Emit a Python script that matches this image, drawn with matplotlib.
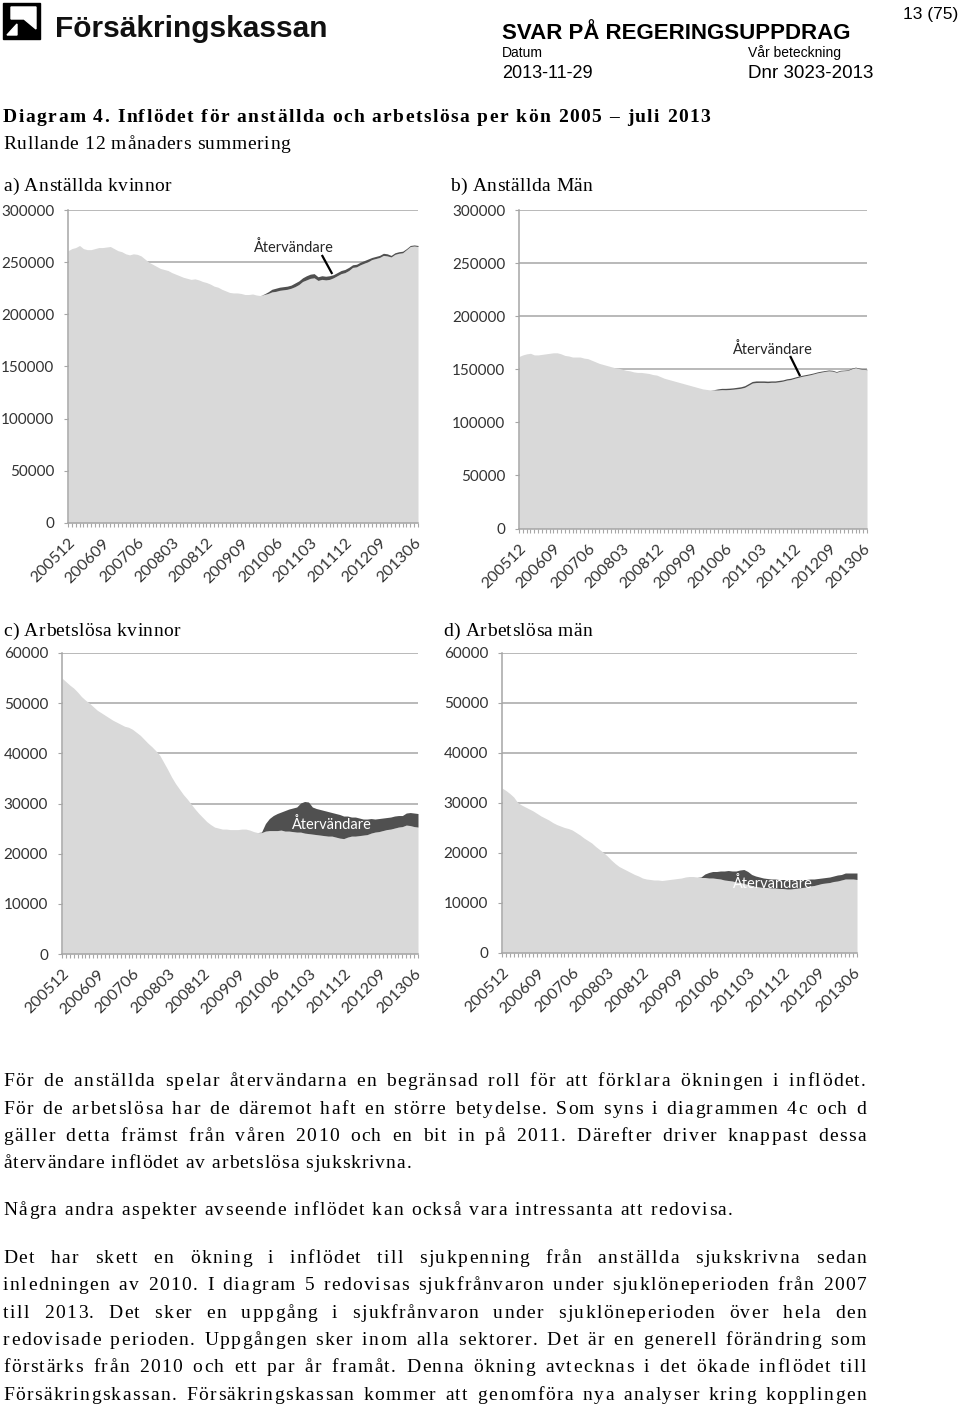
import numpy as np
import pandas as pd
import matplotlib
matplotlib.use("Agg")
import matplotlib.pyplot as plt
from matplotlib import font_manager
from matplotlib.font_manager import FontProperties
from matplotlib.ft2font import FT2Font
from matplotlib.transforms import ScaledTranslation
from matplotlib.patches import Polygon, Rectangle

# ------------------------------------------------------------------ data
months = list(pd.period_range("2005-12", "2013-07", freq="M").strftime("%Y%m"))
tick_labels = ["200512", "200609", "200706", "200803", "200812", "200909",
               "201006", "201103", "201112", "201209", "201306"]

# values in thousands (rolling 12-month sums)
a_base = [261, 263, 264, 266, 263, 262, 262, 263, 264, 264,
          264.5, 265, 263, 261, 260, 258, 257, 258, 257.5, 256,
          253, 250, 248, 246, 244, 243, 242, 240, 238.5, 237,
          235.5, 234.5, 233.5, 234, 233, 231.5, 230.5, 229, 227, 226,
          224, 222.5, 221, 220.5, 220.5, 220, 219, 219, 219.5, 218.5,
          218, 219, 220, 221.5, 222, 223, 223.5, 224, 225, 226.5,
          228.5, 231.5, 233, 234.5, 235, 232.5, 233.5, 233, 233.5, 235,
          237, 239, 240, 242, 245, 245.5, 247.5, 249, 250.5, 252.5,
          253.5, 254.5, 256.5, 256, 255, 257.5, 258.5, 259, 262, 265,
          265.5, 265]
a_ret = [0] * 51 + [0.5, 1.5, 2.5, 3, 3, 3, 3, 3, 3.5, 3.5,
                    3.5, 4, 4, 4, 3.5, 3.5, 3.5, 3.5, 3, 3,
                    3, 3, 3, 2.5, 2.5, 2.5, 2.5, 2.5, 2, 2,
                    2, 2, 2, 1.5, 1.5, 1.5, 1.5, 1, 1, 1, 1]

b_base = [162, 163.5, 164.5, 165, 163.5, 163.5, 164, 164.5, 165, 165.5,
          165.5, 164.5, 163, 162.5, 161.5, 161.5, 161.5, 160.5, 160, 158.5,
          157, 155.5, 154.5, 153.5, 152.5, 151.5, 151, 150, 149, 148.5,
          147.5, 147, 147, 146.5, 146, 145, 144.5, 143, 141.5, 140.5,
          139.5, 138.5, 137.5, 136.5, 135.5, 134.5, 133.5, 132.5, 131.5, 131,
          130.5, 130.5, 130.5, 130.8, 130.7, 130.9, 131.2, 131.6, 132.1, 133,
          135, 137, 137.5, 137.6, 137.6, 137.4, 137.7, 137.7, 138.2, 138.8,
          139.8, 140.3, 141.4, 142.4, 143.3, 144, 144.7, 145.6, 146.6, 147.3,
          148, 148.5, 148.2, 147.1, 148.3, 148.6, 148.9, 150.5, 151.5, 150.5,
          150, 149.5]
b_ret = [0] * 51 + [0.3, 1.0, 1.2, 1.3, 1.3, 1.3, 1.4, 1.4, 1.5, 1.5,
                    1.5, 1.5, 1.4, 1.4, 1.4, 1.3, 1.3, 1.3, 1.2, 1.2,
                    1.2, 1.1, 1.1, 1.0, 1.0, 1.0, 0.9, 0.9, 0.9, 0.8,
                    0.8, 0.8, 0.7, 0.7, 0.6, 0.6, 0.5, 0.5, 0.5, 0.5, 0.5]

c_base = [55, 54.3, 53.6, 53, 52.2, 51.3, 50.6, 50, 49.3, 48.6,
          48.1, 47.6, 47.1, 46.6, 46.2, 45.8, 45.4, 45.2, 44.8, 44.2,
          43.6, 42.8, 42.0, 41.3, 40.5, 39.6, 38.2, 36.8, 35.3, 34.0,
          32.9, 31.8, 30.9, 29.9, 28.9, 28.0, 27.2, 26.4, 25.8, 25.3,
          25.1, 24.9, 24.9, 24.8, 24.8, 24.8, 24.9, 24.9, 24.7, 24.4,
          24.2, 24.2, 24.5, 24.6, 24.6, 24.6, 24.7, 24.5, 24.5, 24.4,
          24.3, 24.3, 24.1, 24.0, 23.9, 23.8, 23.7, 23.6, 23.5, 23.5,
          23.3, 23.1, 23.0, 23.3, 23.5, 23.5, 23.6, 23.7, 23.8, 24.1,
          24.3, 24.4, 24.6, 24.8, 24.9, 25.1, 25.3, 25.4, 25.7, 25.6,
          25.4, 25.3]
c_ret = [0] * 51 + [0.1, 1.5, 2.4, 3.0, 3.4, 3.6, 4.1, 4.4, 4.7, 5.0,
                    5.8, 6.3, 6.3, 5.4, 5.2, 5.1, 5.0, 4.9, 4.7, 4.7,
                    4.7, 4.5, 4.2, 3.8, 3.8, 3.5, 3.2, 3.1, 2.9, 2.6,
                    2.6, 2.5, 2.4, 2.4, 2.4, 2.3, 2.2, 2.4, 2.6, 2.7, 2.7]

d_base = [33.0, 32.5, 31.9, 31.2, 30.1, 29.6, 29.2, 28.8, 28.4, 27.9,
          27.4, 27.0, 26.6, 26.1, 25.7, 25.4, 25.1, 24.9, 24.6, 24.1,
          23.6, 23.0, 22.5, 22.0, 21.3, 20.7, 20.1, 19.4, 18.6, 17.9,
          17.3, 16.9, 16.5, 16.1, 15.7, 15.4, 15.0, 14.8, 14.7, 14.6,
          14.6, 14.5, 14.6, 14.7, 14.8, 14.9, 15.0, 15.2, 15.3, 15.3,
          15.2, 15.1, 15.1, 15.0, 15.0, 14.9, 14.8, 14.6, 14.5, 14.4,
          14.2, 14.1, 13.9, 13.7, 13.5, 13.3, 13.2, 13.1, 13.1, 13.0,
          13.0, 12.9, 12.9, 12.8, 12.8, 12.9, 13.0, 13.1, 13.2, 13.4,
          13.5, 13.7, 13.9, 14.0, 14.1, 14.3, 14.4, 14.6, 14.8, 14.8,
          14.8, 14.7]
d_ret = [0] * 51 + [0.1, 0.7, 1.1, 1.3, 1.4, 1.6, 1.8, 2.0, 2.0, 2.2,
                    2.5, 2.8, 2.6, 2.2, 2.1, 2.0, 1.9, 1.8, 1.8, 1.8,
                    1.8, 1.8, 1.9, 1.9, 1.8, 1.7, 1.6, 1.5, 1.4, 1.3,
                    1.2, 1.1, 1.1, 1.1, 1.1, 1.2, 1.1, 1.2, 1.2, 1.2, 1.3]

ret_label = "Återvändare"

# ------------------------------------------------------------------ page
W, H = 960, 1405
fig = plt.figure(figsize=(W / 100, H / 100), dpi=100)
fig.patch.set_facecolor("white")

LIGHT = "#d9d9d9"
DARK = "#505050"
GRID = "#a6a6a6"
TXT = "#333333"
CHART_FONT = "Lato"

pax = fig.add_axes([0, 0, 1, 1], zorder=-5)
pax.set_xlim(0, W)
pax.set_ylim(H, 0)
pax.axis("off")

# logo
pax.add_patch(Rectangle((3, 3), 37, 36, color="black"))
pax.add_patch(Polygon([(11, 7), (36, 7), (36, 29), (24, 19), (11, 19)], color="white"))
pax.add_patch(Polygon([(7, 35), (17, 24), (17, 35)], color="white"))


def fx(x):
    return x / W


def fy(y):
    return 1 - y / H


sans = "Liberation Sans"
fig.text(fx(55), fy(37), "Försäkringskassan", family=sans, weight="bold",
         size=21.5, ha="left", va="baseline", color="#111111")
fig.text(fx(958), fy(19), "13 (75)", family=sans, size=12.5, ha="right", va="baseline")
fig.text(fx(502), fy(39), "SVAR PÅ REGERINGSUPPDRAG", family=sans, weight="bold",
         size=16, ha="left", va="baseline")
fig.text(fx(502), fy(57), "Datum", family=sans, size=10, ha="left", va="baseline")
fig.text(fx(748), fy(57), "Vår beteckning", family=sans, size=10, ha="left", va="baseline")
fig.text(fx(502), fy(78), "2013-11-29", family=sans, size=13, ha="left", va="baseline")
fig.text(fx(748), fy(78), "Dnr 3023-2013", family=sans, size=13.5, ha="left", va="baseline")

_font_cache = {}


def advances(s, fp):
    key = (fp.get_family()[0], fp.get_weight(), fp.get_size_in_points())
    if key not in _font_cache:
        f = FT2Font(font_manager.findfont(fp))
        f.set_size(fp.get_size_in_points(), 100)
        _font_cache[key] = f
    f = _font_cache[key]
    return [f.load_char(ord(c)).linearHoriAdvance / 65536 for c in s]


def tracked(s, x0, yb, fp, track=1.0, right=None, color="black"):
    w = advances(s, fp)
    nat = sum(w) + track * (len(s) - 1)
    extra = 0.0
    nsp = s.count(" ")
    if right is not None and nsp:
        extra = (right - x0 - nat) / nsp
    x = x0
    for c, a in zip(s, w):
        if c != " ":
            fig.text(fx(x), fy(yb), c, fontproperties=fp, color=color,
                     ha="left", va="baseline")
        x += a + track + (extra if c == " " else 0.0)


serif = FontProperties(family="Liberation Serif", size=14)
serif_b = FontProperties(family="Liberation Serif", size=14, weight="bold")

tracked("Diagram 4. Inflödet för anställda och arbetslösa per kön 2005 – juli 2013",
        3, 122, serif_b, track=1.45)
tracked("Rullande 12 månaders summering", 3, 149, serif, track=0.7)
tracked("a) Anställda kvinnor", 3, 191, serif, track=0.4)
tracked("b) Anställda Män", 450, 191, serif, track=0.4)
tracked("c) Arbetslösa kvinnor", 3, 636, serif, track=0.4)
tracked("d) Arbetslösa män", 443, 636, serif, track=0.4)

body = [
    ("För de anställda spelar återvändarna en begränsad roll för att förklara ökningen i inflödet.", 1086, True),
    ("För de arbetslösa har de däremot haft en större betydelse. Som syns i diagrammen 4c och d", 1113.5, True),
    ("gäller detta främst från våren 2010 och en bit in på 2011. Därefter driver knappast dessa", 1141, True),
    ("återvändare inflödet av arbetslösa sjukskrivna.", 1168, False),
    ("Några andra aspekter avseende inflödet kan också vara intressanta att redovisa.", 1215, False),
    ("Det har skett en ökning i inflödet till sjukpenning från anställda sjukskrivna sedan", 1263, True),
    ("inledningen av 2010. I diagram 5 redovisas sjukfrånvaron under sjuklöneperioden från 2007", 1290, True),
    ("till 2013. Det sker en uppgång i sjukfrånvaron under sjuklöneperioden över hela den", 1317.5, True),
    ("redovisade perioden. Uppgången sker inom alla sektorer. Det är en generell förändring som", 1345, True),
    ("förstärks från 2010 och ett par år framåt. Denna ökning avtecknas i det ökade inflödet till", 1372, True),
    ("Försäkringskassan. Försäkringskassan kommer att genomföra nya analyser kring kopplingen", 1399.5, True),
]
for s, yb, just in body:
    tr_ = 1.0 if s.startswith("återv") else 1.45
    tracked(s, 3, yb, serif, track=tr_, right=866 if just else None)


# ------------------------------------------------------------------ charts
def chart(rect, base, ret, ymax, ystep, text_xy, line_pts, text_color):
    l, t, r, b = rect
    ax = fig.add_axes([fx(l), fy(b), (r - l) / W, (b - t) / H])
    x = np.arange(len(months))
    base = np.asarray(base, dtype=float) * 1000
    ret = np.asarray(ret, dtype=float) * 1000
    ax.fill_between(x, 0, base, color=LIGHT, lw=0, zorder=1)
    ax.fill_between(x, base, base + ret, where=x >= 50, color=DARK, lw=0, zorder=2)
    ax.set_xlim(0, len(months) - 1)
    ax.set_ylim(0, ymax)
    yt = np.arange(0, ymax + 1, ystep)
    ax.set_yticks(yt)
    ax.set_yticklabels([str(int(v)) for v in yt], family=CHART_FONT, fontsize=11, color=TXT)
    ax.yaxis.grid(True, color=GRID, lw=1.1)
    ax.set_axisbelow(True)
    for sp in ("top", "right"):
        ax.spines[sp].set_visible(False)
    for sp in ("left", "bottom"):
        ax.spines[sp].set_color(GRID)
        ax.spines[sp].set_linewidth(1.1)
    pos = [months.index(m) for m in tick_labels]
    ax.set_xticks(pos)
    ax.set_xticklabels([])
    ax.set_xticks(x, minor=True)
    ax.tick_params(axis="both", which="both", direction="out", color=GRID,
                   length=3, width=0.8)
    ax.tick_params(axis="y", pad=7)
    tr = ax.get_xaxis_transform() + ScaledTranslation(0.0, -0.13, fig.dpi_scale_trans)
    for p, lab in zip(pos, tick_labels):
        ax.text(p, 0, lab, transform=tr, rotation=45, ha="right", va="top",
                rotation_mode="anchor", family=CHART_FONT, fontsize=11.5, color=TXT)
    ax.text(text_xy[0], text_xy[1], ret_label, ha="center", va="center",
            family=CHART_FONT, fontsize=10.5, color=text_color, zorder=5)
    if line_pts is not None:
        (x0, y0), (x1, y1) = line_pts
        ax.plot([x0, x1], [y0, y1], color="black", lw=1.6, zorder=5,
                solid_capstyle="butt")
    return ax


chart((68, 210, 418, 523), a_base, a_ret, 300000, 50000,
      (58.4, 264000), ((66.0, 256900), (68.7, 238700)), "#262626")
chart((519, 210, 867, 528.5), b_base, b_ret, 300000, 50000,
      (66.2, 168500), ((70.9, 162500), (73.5, 143600)), "#262626")
chart((62, 653, 418, 954), c_base, c_ret, 60000, 10000,
      (68.7, 25900), None, "white")
chart((502, 653, 857, 953), d_base, d_ret, 60000, 10000,
      (69.2, 13800), None, "white")

fig.savefig("out.png", dpi=100, facecolor="white")
